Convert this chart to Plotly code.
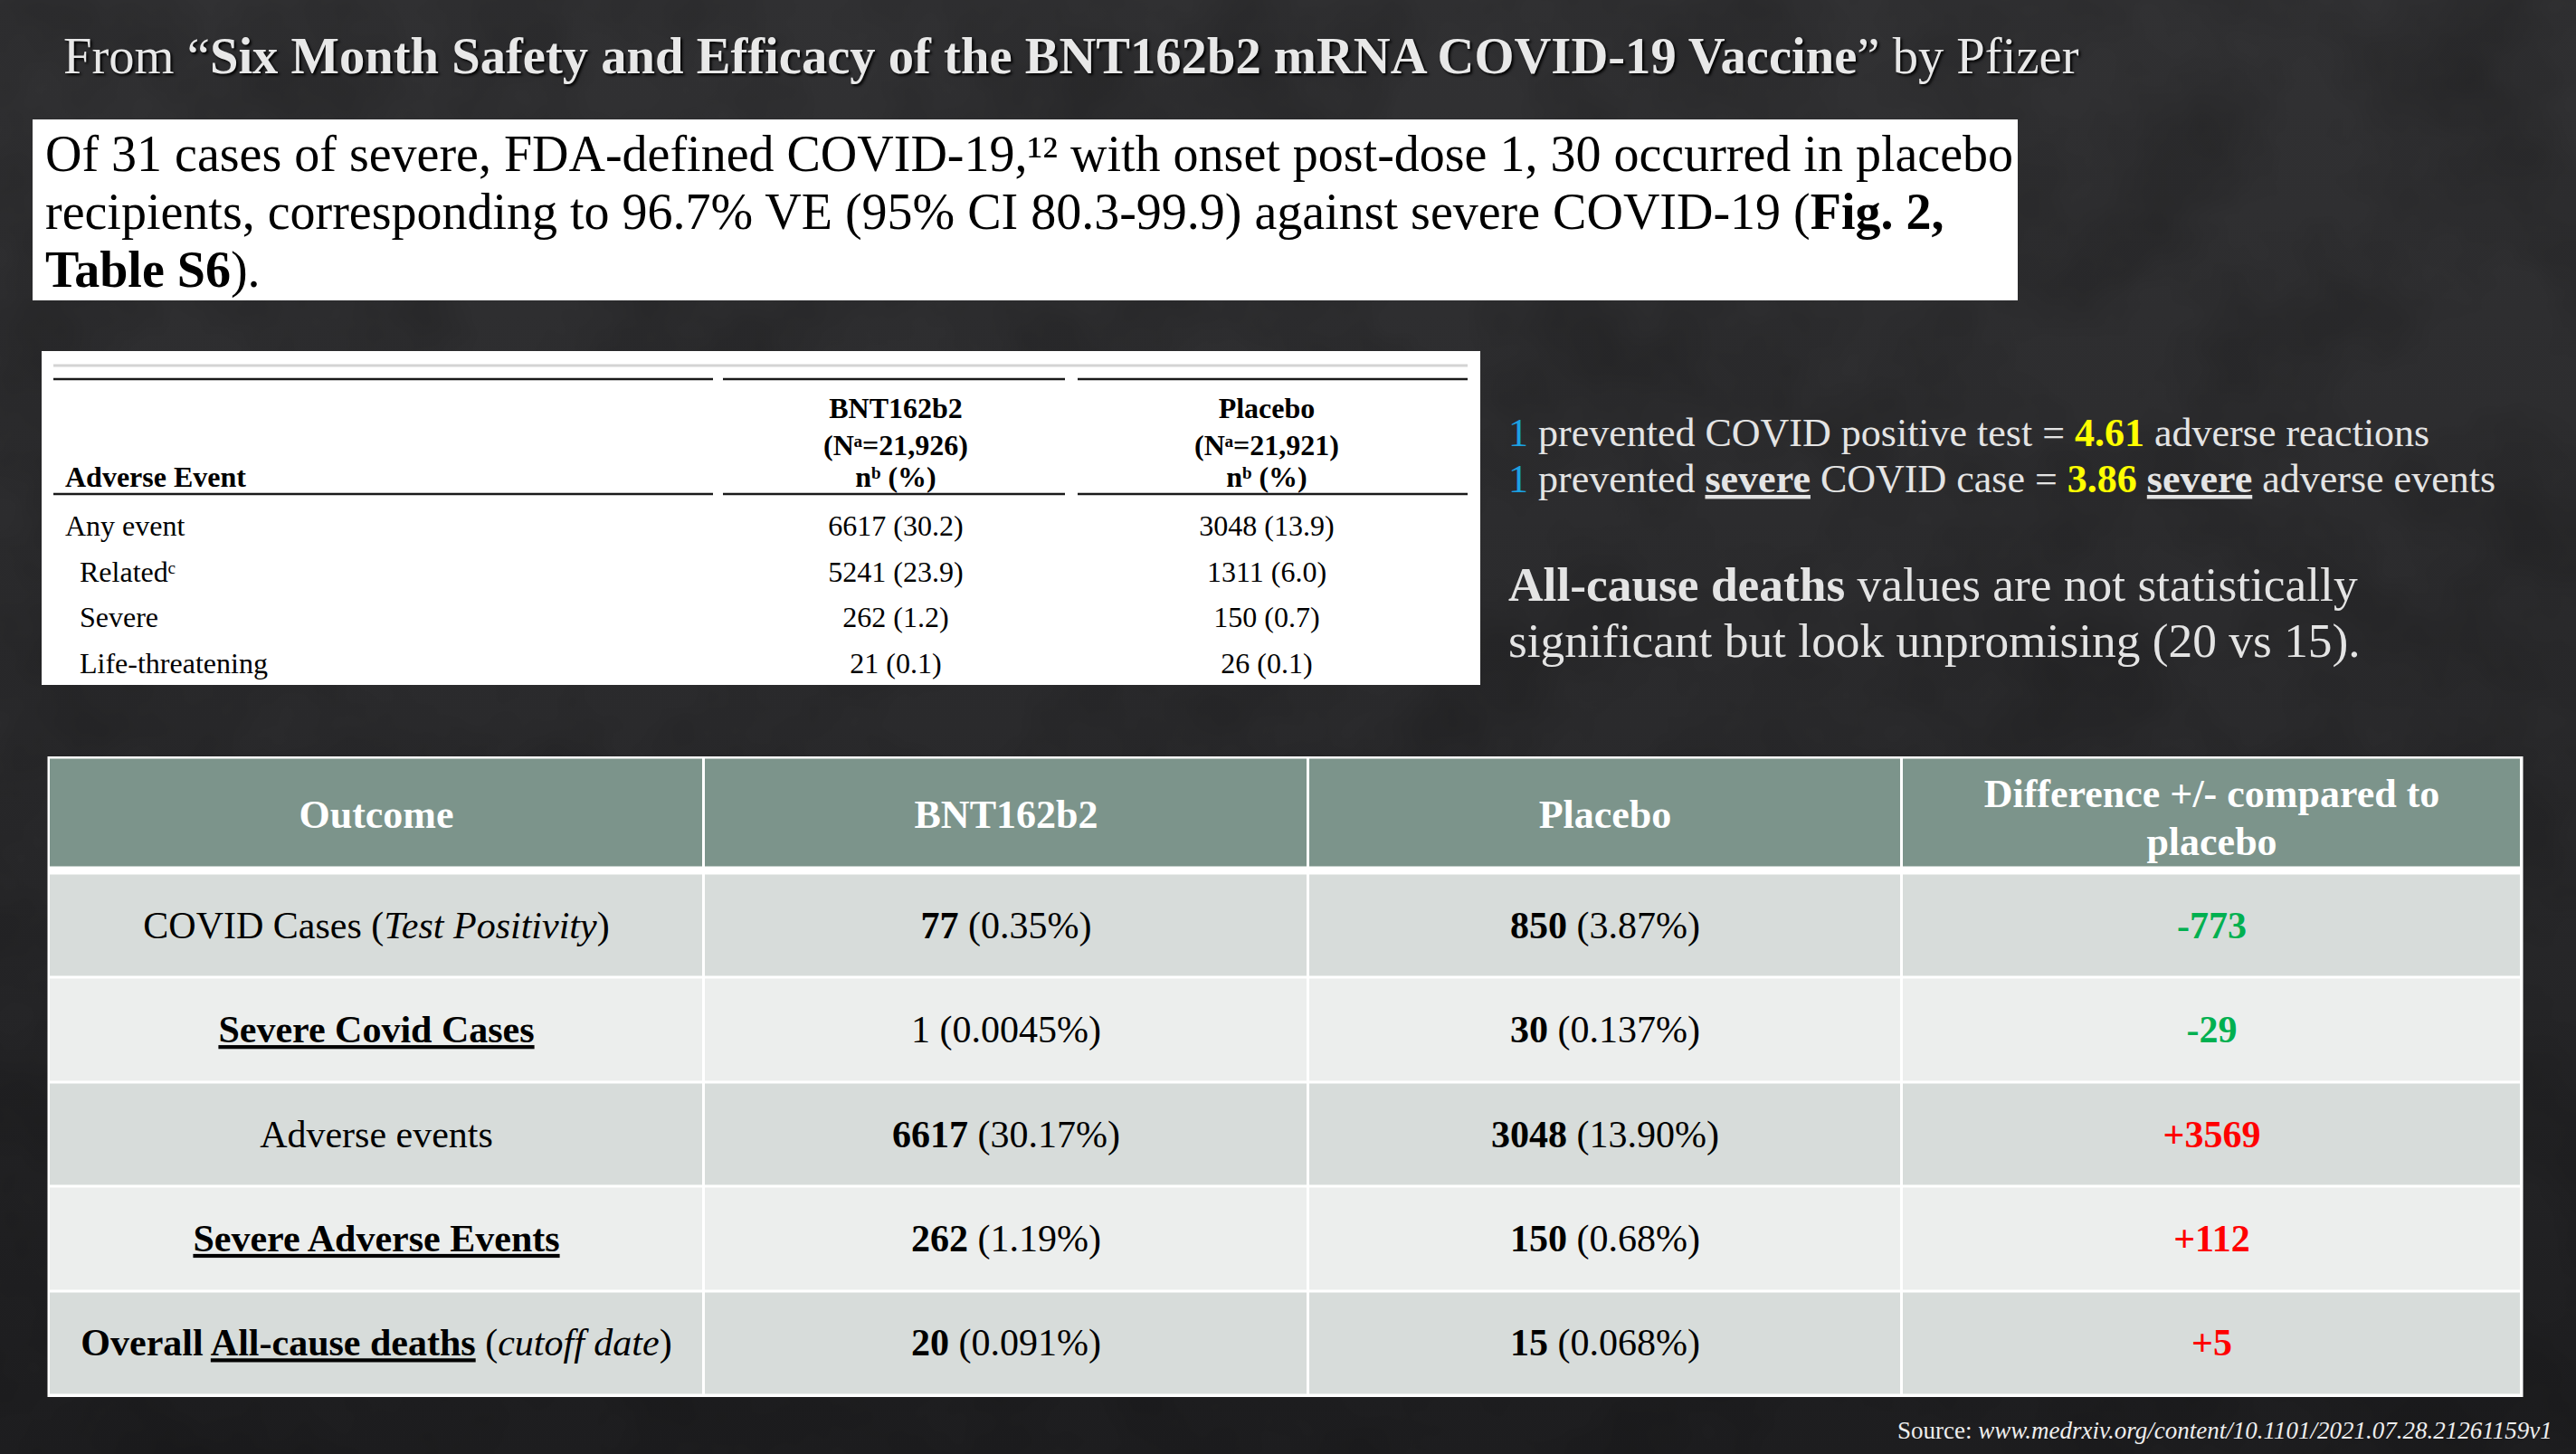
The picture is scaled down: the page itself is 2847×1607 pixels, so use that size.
import base64
import plotly.graph_objects as go

W, H = 2847, 1607
SERIF = "Liberation Serif"
LIGHT = "#E4E4E4"

# ---------------- data ----------------
title_lead = "From “"
title_bold = "Six Month Safety and Efficacy of the BNT162b2 mRNA COVID-19 Vaccine"
title_tail = "” by Pfizer"

quote_lines = [
    "Of 31 cases of severe, FDA-defined COVID-19,¹² with onset post-dose 1, 30 occurred in placebo",
    "recipients, corresponding to 96.7% VE (95% CI 80.3-99.9) against severe COVID-19 (<b>Fig. 2,</b>",
    "<b>Table S6</b>).",
]

ae_header_label = "Adverse Event"
ae_groups = ["BNT162b2", "Placebo"]
ae_group_n = ["21,926", "21,921"]
ae_events = ["Any event", "Relatedᶜ", "Severe", "Life-threatening"]
ae_bnt = ["6617 (30.2)", "5241 (23.9)", "262 (1.2)", "21 (0.1)"]
ae_placebo = ["3048 (13.9)", "1311 (6.0)", "150 (0.7)", "26 (0.1)"]

ratio_values = ["4.61", "3.86"]
deaths_bnt = 20
deaths_placebo = 15

table_headers = ["Outcome", "BNT162b2", "Placebo", "Difference +/- compared to<br>placebo"]
outcomes = [
    "COVID Cases (<i>Test Positivity</i>)",
    "<b><u>Severe Covid Cases</u></b>",
    "Adverse events",
    "<b><u>Severe Adverse Events</u></b>",
    "<b>Overall <u>All-cause deaths</u></b> (<i>cutoff date</i>)",
]
bnt_counts = [77, 1, 6617, 262, 20]
bnt_pcts = ["0.35%", "0.0045%", "30.17%", "1.19%", "0.091%"]
bnt_bold = [True, False, True, True, True]
placebo_counts = [850, 30, 3048, 150, 15]
placebo_pcts = ["3.87%", "0.137%", "13.90%", "0.68%", "0.068%"]
placebo_bold = [True, True, True, True, True]

source_label = "Source:"
source_url = "www.medrxiv.org/content/10.1101/2021.07.28.21261159v1"

# ---------------- styles / layout constants ----------------
HEADER_FILL = "#7C948B"
ROW_DARK = "#D7DCDA"
ROW_LIGHT = "#ECEEED"
GREEN = "#00B050"
RED = "#FF0000"
BLUE = "#1BA1E2"
YELLOW = "#FFFF00"

# background (gradient + subtle texture)
svg = f'''<svg xmlns="http://www.w3.org/2000/svg" width="{W}" height="{H}" viewBox="0 0 {W} {H}">
<defs>
<linearGradient id="g" x1="0" y1="0" x2="0" y2="1">
<stop offset="0" stop-color="#313133"/>
<stop offset="0.5" stop-color="#2a2a2c"/>
<stop offset="1" stop-color="#1d1d1f"/>
</linearGradient>
<filter id="n" x="0" y="0" width="100%" height="100%">
<feTurbulence type="fractalNoise" baseFrequency="0.006" numOctaves="4" seed="7"/>
<feColorMatrix type="matrix" values="0 0 0 0 0  0 0 0 0 0  0 0 0 0 0  0.35 0 0 0 -0.12"/>
</filter>
</defs>
<rect width="{W}" height="{H}" fill="url(#g)"/>
<rect width="{W}" height="{H}" filter="url(#n)"/>
</svg>'''
bg_uri = "data:image/svg+xml;base64," + base64.b64encode(svg.encode()).decode()

fig = go.Figure()

# ---------------- big comparison table ----------------
col_edges = [54, 778, 1446, 2102, 2787]
header_top, header_bottom, body_top = 837.5, 959.5, 965.5
row_h = 115.4
n_rows = len(outcomes)
row_edges = [body_top + i * row_h for i in range(n_rows + 1)]
y_edges = [header_top, header_bottom] + row_edges
z = [[0] * 4, [None] * 4] + [[1 if i % 2 == 0 else 2] * 4 for i in range(n_rows)]

fig.add_trace(go.Heatmap(
    x=col_edges, y=y_edges, z=z, zmin=0, zmax=2,
    colorscale=[[0, HEADER_FILL], [0.5, ROW_DARK], [1, ROW_LIGHT]],
    showscale=False, xgap=3, ygap=3, hoverinfo="skip",
))

col_centers = [(a + b) / 2 for a, b in zip(col_edges[:-1], col_edges[1:])]
row_centers = [(a + b) / 2 + 3 for a, b in zip(row_edges[:-1], row_edges[1:])]
header_center = (header_top + header_bottom) / 2 + 5
HEADER_LINE_GAP = 53

hx, hy, ht = [], [], []
for ci, label in enumerate(table_headers):
    parts = label.split("<br>")
    n = len(parts)
    for k, part in enumerate(parts):
        hx.append(col_centers[ci])
        hy.append(header_center + (k - (n - 1) / 2) * HEADER_LINE_GAP + (3.5 if n > 1 else 0))
        ht.append(f"<b>{part}</b>")

fig.add_trace(go.Scatter(
    x=hx, y=hy, mode="text", text=ht,
    textposition="middle center",
    textfont=dict(family=SERIF, size=44, color="#FFFFFF"),
    hoverinfo="skip",
))


def count_cell(n, pct, bold):
    num = f"<b>{n}</b>" if bold else f"{n}"
    return f"{num} ({pct})"


differences = [b - p for b, p in zip(bnt_counts, placebo_counts)]
diff_text = [f"<b>{d:+d}</b>" for d in differences]
diff_colors = [GREEN if d < 0 else RED for d in differences]

columns_text = [
    outcomes,
    [count_cell(n, p, b) for n, p, b in zip(bnt_counts, bnt_pcts, bnt_bold)],
    [count_cell(n, p, b) for n, p, b in zip(placebo_counts, placebo_pcts, placebo_bold)],
    diff_text,
]
columns_color = [["#000000"] * n_rows, ["#000000"] * n_rows, ["#000000"] * n_rows, diff_colors]

for ci, (texts, colors) in enumerate(zip(columns_text, columns_color)):
    fig.add_trace(go.Scatter(
        x=[col_centers[ci]] * n_rows, y=row_centers, mode="text",
        text=texts, textposition="middle center",
        textfont=dict(family=SERIF, size=42, color=colors),
        hoverinfo="skip",
    ))

# ---------------- small adverse-event table ----------------
ae_label_x = 72
ae_indent_x = 88
ae_col_x = [990, 1400]
ae_head_y = [454, 495, 530]
ae_row_y = [584, 635, 685, 736]
AE_FS = 32

fig.add_trace(go.Scatter(
    x=[ae_label_x], y=[ae_head_y[2]], mode="text",
    text=[f"<b>{ae_header_label}</b>"], textposition="middle right",
    textfont=dict(family=SERIF, size=AE_FS, color="#000000"), hoverinfo="skip",
))
for gi, (g, n) in enumerate(zip(ae_groups, ae_group_n)):
    fig.add_trace(go.Scatter(
        x=[ae_col_x[gi]] * 3, y=ae_head_y, mode="text",
        text=[f"<b>{g}</b>", f"<b>(Nᵃ={n})</b>", "<b>nᵇ (%)</b>"],
        textposition="middle center",
        textfont=dict(family=SERIF, size=AE_FS, color="#000000"), hoverinfo="skip",
    ))
fig.add_trace(go.Scatter(
    x=[ae_label_x] + [ae_indent_x] * (len(ae_events) - 1), y=ae_row_y, mode="text",
    text=ae_events, textposition="middle right",
    textfont=dict(family=SERIF, size=AE_FS, color="#000000"), hoverinfo="skip",
))
for gi, vals in enumerate([ae_bnt, ae_placebo]):
    fig.add_trace(go.Scatter(
        x=[ae_col_x[gi]] * len(vals), y=ae_row_y, mode="text",
        text=vals, textposition="middle center",
        textfont=dict(family=SERIF, size=AE_FS, color="#000000"), hoverinfo="skip",
    ))

# ---------------- shapes (panels & rules) ----------------
shapes = [
    dict(type="rect", x0=36, x1=2230, y0=132, y1=332, fillcolor="#FFFFFF", line=dict(width=0), layer="below"),
    dict(type="rect", x0=46, x1=1636, y0=388, y1=757, fillcolor="#FFFFFF", line=dict(width=0), layer="below"),
    dict(type="rect", x0=52.5, x1=2788.5, y0=836, y1=1544, fillcolor="#FFFFFF", line=dict(width=0), layer="below"),
    dict(type="line", x0=59, x1=1622, y0=404, y1=404, line=dict(color="#D4D4D4", width=3), layer="below"),
]
for x0, x1 in [(59, 788), (799, 1177), (1191, 1622)]:
    for yy in (419, 546):
        shapes.append(dict(type="line", x0=x0, x1=x1, y0=yy, y1=yy,
                           line=dict(color="#1A1A1A", width=2.5), layer="below"))

# ---------------- annotations (slide text) ----------------
ann = []
ann.append(dict(
    x=68, y=62, xanchor="left", yanchor="middle",
    text=f"{title_lead}<b>{title_bold}</b>{title_tail}",
    font=dict(family=SERIF, size=56.6, color="#E8E8E8", shadow="2px 2px 3px #000000"),
))
for line, yy in zip(quote_lines, [170, 234, 298]):
    ann.append(dict(x=48, y=yy, xanchor="left", yanchor="middle", text=line,
                    font=dict(family=SERIF, size=56, color="#000000")))

right_lines = [
    f'<span style="color:{BLUE}">1</span> prevented COVID positive test = '
    f'<b><span style="color:{YELLOW}">{ratio_values[0]}</span></b> adverse reactions',
    f'<span style="color:{BLUE}">1</span> prevented <b><u>severe</u></b> COVID case = '
    f'<b><span style="color:{YELLOW}">{ratio_values[1]}</span></b> <b><u>severe</u></b> adverse events',
]
for line, yy in zip(right_lines, [478, 529]):
    ann.append(dict(x=1665, y=yy, xanchor="left", yanchor="middle", text=line,
                    font=dict(family=SERIF, size=44, color=LIGHT)))

death_lines = [
    "<b>All-cause deaths</b> values are not statistically",
    f"significant but look unpromising ({deaths_bnt} vs {deaths_placebo}).",
]
for line, yy in zip(death_lines, [646, 708]):
    ann.append(dict(x=1665, y=yy, xanchor="left", yanchor="middle", text=line,
                    font=dict(family=SERIF, size=53.4, color=LIGHT)))

ann.append(dict(x=2823, y=1581, xanchor="right", yanchor="middle",
                text=f"{source_label} <i>{source_url}</i>",
                font=dict(family=SERIF, size=27, color="#EEEEEE")))

for a in ann:
    a.update(xref="x", yref="y", showarrow=False)

fig.update_layout(
    width=W, height=H,
    margin=dict(l=0, r=0, t=0, b=0, pad=0),
    paper_bgcolor="#262628", plot_bgcolor="rgba(0,0,0,0)",
    showlegend=False, hovermode=False,
    xaxis=dict(range=[0, W], visible=False, fixedrange=True),
    yaxis=dict(range=[H, 0], visible=False, fixedrange=True),
    shapes=shapes, annotations=ann,
    images=[dict(source=bg_uri, xref="paper", yref="paper", x=0, y=1, sizex=1, sizey=1,
                 xanchor="left", yanchor="top", sizing="stretch", layer="below")],
)

fig.write_html(
    "out.html",
    config={"displayModeBar": False, "staticPlot": True},
    post_script="document.body.style.margin='0';document.body.style.overflow='hidden';",
)
